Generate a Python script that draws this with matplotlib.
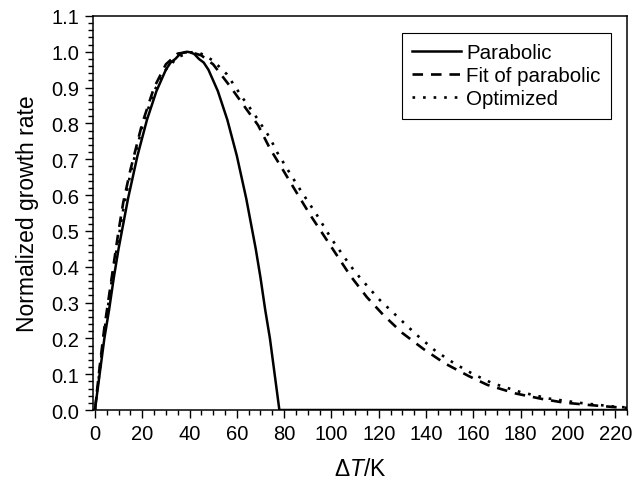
import matplotlib
matplotlib.use("Agg")
import matplotlib.pyplot as plt
from matplotlib.ticker import MultipleLocator

# Parabolic growth rate (solid)
para_x = [0, 1, 2, 3, 4, 6, 8, 10, 12, 14, 16, 18, 20, 22, 24, 26, 28, 30, 32, 34, 36, 38, 39,
          40, 42, 44, 46, 48, 50, 52, 54, 56, 58, 60, 62, 64, 66, 68, 70, 72, 74, 76, 77, 78, 225]
para_y = [0, 0.05, 0.10, 0.15, 0.20, 0.28, 0.37, 0.45, 0.52, 0.59, 0.65, 0.71, 0.76, 0.81, 0.85,
          0.89, 0.92, 0.95, 0.97, 0.98, 0.994, 0.999, 1.0, 0.999, 0.994, 0.98, 0.97, 0.95, 0.92,
          0.89, 0.85, 0.81, 0.76, 0.71, 0.65, 0.59, 0.52, 0.45, 0.37, 0.28, 0.20, 0.10, 0.05, 0.0, 0.0]

# Fit of parabolic (dashed)
fit_x = [0, 2, 4, 6, 8, 10, 12, 15, 20, 25, 30, 35, 40, 45, 50, 57, 63.5, 69, 74, 80, 85, 91, 97,
         103, 108, 115, 122, 130, 139, 148, 158, 166, 178, 189, 198, 209, 220, 225]
fit_y = [0, 0.12, 0.23, 0.32, 0.41, 0.50, 0.58, 0.67, 0.80, 0.90, 0.965, 0.995, 1.0, 0.99, 0.965,
         0.905, 0.845, 0.795, 0.73, 0.665, 0.61, 0.545, 0.485, 0.425, 0.375, 0.315, 0.265, 0.215,
         0.17, 0.13, 0.095, 0.07, 0.046, 0.031, 0.021, 0.014, 0.008, 0.006]

# Optimized (dotted)
opt_x = [0, 2, 4, 6, 8, 10, 12, 15, 20, 25, 30, 35, 40, 43, 46.5, 50, 55.7, 62.7, 67, 74, 77, 83, 87,
         94, 100, 108, 112, 120, 128, 136, 144, 152, 160, 168, 180, 192, 205, 219, 225]
opt_y = [0, 0.11, 0.22, 0.31, 0.40, 0.48, 0.56, 0.66, 0.79, 0.89, 0.95, 0.985, 0.998, 1.0, 0.99,
         0.975, 0.938, 0.869, 0.83, 0.76, 0.72, 0.655, 0.613, 0.543, 0.478, 0.403, 0.37, 0.31,
         0.26, 0.21, 0.165, 0.13, 0.10, 0.075, 0.05, 0.032, 0.02, 0.01, 0.007]


def main():
    plt.rcParams["font.family"] = ["Liberation Sans", "DejaVu Sans"]
    plt.rcParams["mathtext.fontset"] = "custom"
    plt.rcParams["mathtext.rm"] = "Liberation Sans"
    plt.rcParams["mathtext.it"] = "Liberation Sans:italic"

    fig = plt.figure(figsize=(6.38, 4.81), dpi=100)
    ax = fig.add_axes([0.1458, 0.1455, 0.8370, 0.8192])

    ax.plot(para_x, para_y, color="black", lw=1.8, ls="-", label="Parabolic")
    ax.plot(fit_x, fit_y, color="black", lw=1.9, ls=(0, (4, 3)), label="Fit of parabolic")
    ax.plot(opt_x, opt_y, color="black", lw=1.9, ls=(0, (1, 3)), label="Optimized")

    ax.set_xlim(-0.8, 225)
    ax.set_ylim(0, 1.1)
    ax.xaxis.set_major_locator(MultipleLocator(20))
    ax.xaxis.set_minor_locator(MultipleLocator(5))
    ax.yaxis.set_major_locator(MultipleLocator(0.1))
    ax.yaxis.set_minor_locator(MultipleLocator(0.02))
    ax.yaxis.set_major_formatter(plt.FormatStrFormatter("%.1f"))
    ax.tick_params(which="both", direction="out", top=False, right=False, labelsize=14.5, width=1.0)
    ax.tick_params(which="major", length=6, pad=4)
    ax.tick_params(which="minor", length=3.5)
    for s in ax.spines.values():
        s.set_linewidth(1.1)

    ax.set_xlabel(r"Δ$\it{T}$/K", fontsize=16.5, labelpad=10)
    ax.set_ylabel("Normalized growth rate", fontsize=16.5, labelpad=9)

    leg = ax.legend(loc="upper right", bbox_to_anchor=(0.970, 0.957), fontsize=14.8,
                    fancybox=False, edgecolor="black", framealpha=1, handlelength=2.4,
                    handletextpad=0.25, borderpad=0.5, labelspacing=0.2, borderaxespad=0)
    leg.get_frame().set_linewidth(0.8)

    fig.savefig("out.png", dpi=100)


if __name__ == "__main__":
    main()
